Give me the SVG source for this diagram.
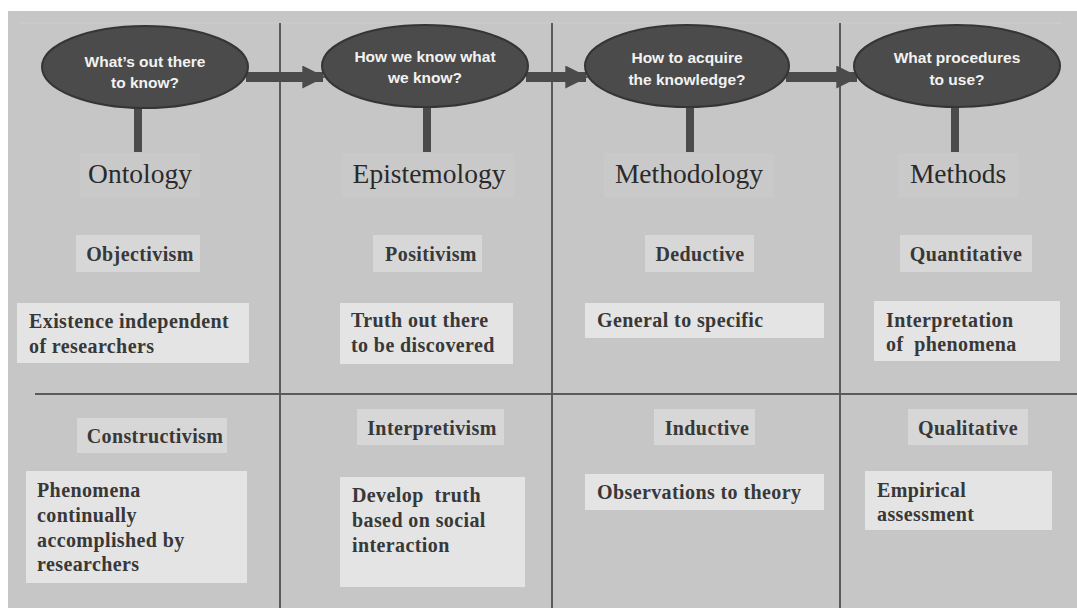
<svg xmlns="http://www.w3.org/2000/svg" width="1077" height="608" viewBox="0 0 1077 608">
  <style>
    .panel { fill: #c6c6c6; }
    .rule { stroke: #5a5a5a; stroke-width: 2; fill: none; }
    .q { fill: #4b4b4b; stroke: #353535; stroke-width: 2; }
    .qt { fill: #f2f2f2; font-family: "Liberation Sans", Arial, sans-serif; font-weight: bold; font-size: 15.5px; text-anchor: middle; }
    .head-bg { fill: #c9c9c9; }
    .head { fill: #2a2a2a; font-family: "Liberation Serif", "Times New Roman", serif; font-size: 27.5px; text-anchor: middle; }
    .sub-bg { fill: #d7d7d7; }
    .sub { fill: #383838; font-family: "Liberation Serif", "Times New Roman", serif; font-weight: bold; font-size: 20px; letter-spacing: 0.4px; text-anchor: middle; }
    .box { fill: #e4e4e4; }
    .bt { fill: #383838; font-family: "Liberation Serif", "Times New Roman", serif; font-weight: bold; font-size: 20px; letter-spacing: 0.4px; white-space: pre; }
    .bar { fill: #4b4b4b; }
  </style>
  <defs>
    <marker id="head" viewBox="0 0 10 10" refX="9" refY="5" markerWidth="2.3" markerHeight="2.3" orient="auto" markerUnits="strokeWidth">
      <path d="M0,0 L10,5 L0,10 Z" fill="#4b4b4b"/>
    </marker>
  </defs>

  <!-- page and panel -->
  <rect x="0" y="0" width="1077" height="608" fill="#ffffff"/>
  <rect class="panel" x="8" y="11" width="1069" height="597"/>
  <line x1="20" y1="23" x2="1062" y2="23" stroke="#cfcfcf" stroke-width="1"/>

  <!-- grid rules -->
  <g id="grid">
    <line class="rule" x1="280" y1="23" x2="280" y2="608"/>
    <line class="rule" x1="552" y1="23" x2="552" y2="608"/>
    <line class="rule" x1="840" y1="23" x2="840" y2="608"/>
    <line class="rule" x1="35" y1="394" x2="1077" y2="394"/>
  </g>

  <!-- connectors: arrows between questions, stems down to headings -->
  <g id="connectors">
    <line x1="246" y1="77" x2="323" y2="77" stroke="#4b4b4b" stroke-width="10" marker-end="url(#head)"/>
    <line x1="526" y1="77" x2="586" y2="77" stroke="#4b4b4b" stroke-width="10" marker-end="url(#head)"/>
    <line x1="786" y1="77" x2="857" y2="77" stroke="#4b4b4b" stroke-width="10" marker-end="url(#head)"/>
    <rect class="bar" x="134" y="106" width="8" height="46"/>
    <rect class="bar" x="423" y="106" width="8" height="46"/>
    <rect class="bar" x="686" y="106" width="8" height="46"/>
    <rect class="bar" x="951" y="106" width="8" height="46"/>
  </g>

  <!-- question ellipses -->
  <g id="q-ontology">
    <ellipse class="q" cx="145" cy="67" rx="103" ry="41"/>
    <text class="qt" x="145" y="67">What’s out there</text>
    <text class="qt" x="145" y="88">to know?</text>
  </g>
  <g id="q-epistemology">
    <ellipse class="q" cx="425" cy="66" rx="103" ry="41"/>
    <text class="qt" x="425" y="62">How we know what</text>
    <text class="qt" x="425" y="83">we know?</text>
  </g>
  <g id="q-methodology">
    <ellipse class="q" cx="687" cy="66" rx="102" ry="41"/>
    <text class="qt" x="687" y="63">How to acquire</text>
    <text class="qt" x="687" y="85">the knowledge?</text>
  </g>
  <g id="q-methods">
    <ellipse class="q" cx="957" cy="66" rx="103" ry="41"/>
    <text class="qt" x="957" y="63">What procedures</text>
    <text class="qt" x="957" y="85">to use?</text>
  </g>

  <!-- column headings -->
  <g id="h-ontology">
    <rect class="head-bg" x="80" y="153" width="120" height="45"/>
    <text class="head" x="140" y="183">Ontology</text>
  </g>
  <g id="h-epistemology">
    <rect class="head-bg" x="342" y="153" width="172" height="45"/>
    <text class="head" x="429" y="183">Epistemology</text>
  </g>
  <g id="h-methodology">
    <rect class="head-bg" x="604" y="153" width="170" height="45"/>
    <text class="head" x="689" y="183">Methodology</text>
  </g>
  <g id="h-methods">
    <rect class="head-bg" x="898" y="153" width="120" height="45"/>
    <text class="head" x="958" y="183">Methods</text>
  </g>

  <!-- upper row -->
  <g id="objectivism">
    <rect class="sub-bg" x="76" y="235" width="124" height="37"/>
    <text class="sub" x="140" y="261">Objectivism</text>
  </g>
  <g id="objectivism-desc">
    <rect class="box" x="17" y="303" width="232" height="60"/>
    <text class="bt" x="29" y="328">Existence independent</text>
    <text class="bt" x="29" y="353">of researchers</text>
  </g>
  <g id="positivism">
    <rect class="sub-bg" x="373" y="235" width="109" height="37"/>
    <text class="sub" x="431" y="261">Positivism</text>
  </g>
  <g id="positivism-desc">
    <rect class="box" x="340" y="303" width="173" height="61"/>
    <text class="bt" x="351" y="327">Truth out there</text>
    <text class="bt" x="351" y="352">to be discovered</text>
  </g>
  <g id="deductive">
    <rect class="sub-bg" x="645" y="235" width="109" height="37"/>
    <text class="sub" x="700" y="261">Deductive</text>
  </g>
  <g id="deductive-desc">
    <rect class="box" x="585" y="303" width="239" height="35"/>
    <text class="bt" x="597" y="327">General to specific</text>
  </g>
  <g id="quantitative">
    <rect class="sub-bg" x="900" y="235" width="132" height="37"/>
    <text class="sub" x="966" y="261">Quantitative</text>
  </g>
  <g id="quantitative-desc">
    <rect class="box" x="874" y="301" width="186" height="60"/>
    <text class="bt" x="886" y="327">Interpretation</text>
    <text class="bt" x="886" y="351">of  phenomena</text>
  </g>

  <!-- lower row -->
  <g id="constructivism">
    <rect class="sub-bg" x="77" y="418" width="150" height="35"/>
    <text class="sub" x="155" y="443">Constructivism</text>
  </g>
  <g id="constructivism-desc">
    <rect class="box" x="26" y="471" width="221" height="112"/>
    <text class="bt" x="37" y="497">Phenomena</text>
    <text class="bt" x="37" y="522">continually</text>
    <text class="bt" x="37" y="547">accomplished by</text>
    <text class="bt" x="37" y="571">researchers</text>
  </g>
  <g id="interpretivism">
    <rect class="sub-bg" x="357" y="409" width="147" height="36"/>
    <text class="sub" x="432" y="435">Interpretivism</text>
  </g>
  <g id="interpretivism-desc">
    <rect class="box" x="340" y="477" width="185" height="110"/>
    <text class="bt" x="352" y="502">Develop  truth</text>
    <text class="bt" x="352" y="527">based on social</text>
    <text class="bt" x="352" y="552">interaction</text>
  </g>
  <g id="inductive">
    <rect class="sub-bg" x="654" y="409" width="101" height="36"/>
    <text class="sub" x="707" y="435">Inductive</text>
  </g>
  <g id="inductive-desc">
    <rect class="box" x="585" y="474" width="239" height="36"/>
    <text class="bt" x="597" y="499">Observations to theory</text>
  </g>
  <g id="qualitative">
    <rect class="sub-bg" x="908" y="409" width="120" height="36"/>
    <text class="sub" x="968" y="435">Qualitative</text>
  </g>
  <g id="qualitative-desc">
    <rect class="box" x="865" y="471" width="187" height="59"/>
    <text class="bt" x="877" y="497">Empirical</text>
    <text class="bt" x="877" y="521">assessment</text>
  </g>
</svg>
